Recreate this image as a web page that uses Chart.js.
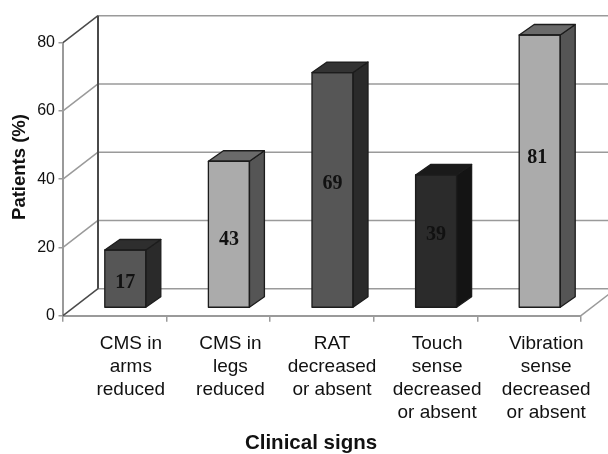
<!DOCTYPE html>
<html>
<head>
<meta charset="utf-8">
<title>Clinical signs</title>
<script src="https://cdn.jsdelivr.net/npm/chart.js@4"></script>
<style>
    html, body { margin: 0; padding: 0; background: #fff; }
    canvas { display: block; }
</style>
</head>
<body>
<canvas id="signsChart" width="608" height="454"></canvas>
<script>
const categories = [
    ["CMS in", "arms", "reduced"],
    ["CMS in", "legs", "reduced"],
    ["RAT", "decreased", "or absent"],
    ["Touch", "sense", "decreased", "or absent"],
    ["Vibration", "sense", "decreased", "or absent"]
];
const patients = [17, 43, 69, 39, 81];
const yTicks = [0, 20, 40, 60, 80];

const frontColors = ["#565656", "#ababab", "#565656", "#2b2b2b", "#ababab"];
const sideColors = ["#2a2a2a", "#555555", "#2a2a2a", "#141414", "#555555"];
const topColors = ["#2e2e2e", "#6a6a6a", "#333333", "#1a1a1a", "#6a6a6a"];
// the printed numbers and category labels were placed by hand in the original
const valueNudge = [[0, 4], [0, 6], [0, -6], [0, -6], [-2.5, -13]];
const categoryNudge = [16, 12, 10, 11.5, 17];

const wall = { dx: 35, dy: -27 };
const barShift = { dx: 10.5, dy: -7.7 };
const barDepth = { dx: 15, dy: -10.5 };
const gridColor = "#9a9a9a";
const darkLine = "#4a4a4a";

function line(ctx, x1, y1, x2, y2) {
    ctx.beginPath();
    ctx.moveTo(x1, y1);
    ctx.lineTo(x2, y2);
    ctx.stroke();
}

function face(ctx, points, fill) {
    ctx.beginPath();
    points.forEach((p, i) => i ? ctx.lineTo(p[0], p[1]) : ctx.moveTo(p[0], p[1]));
    ctx.closePath();
    ctx.fillStyle = fill;
    ctx.fill();
    ctx.stroke();
}

function axisTitle(ctx, text, x, y, size, angle) {
    ctx.save();
    ctx.translate(x, y);
    ctx.rotate(angle);
    ctx.fillStyle = "#111";
    ctx.font = "bold " + size + "px 'Liberation Sans'";
    ctx.textAlign = "center";
    ctx.textBaseline = "middle";
    ctx.fillText(text, 0, 0);
    ctx.restore();
}

const box3d = {
    id: "box3d",
    beforeDraw(chart) {
        // shift each category label off its band centre
        const x = chart.scales.x;
        x.getLabelItems(chart.chartArea).forEach((item, i) => {
            item.options.translation[0] = x.getPixelForValue(i) + categoryNudge[i];
        });
    },
    beforeDatasetsDraw(chart) {
        const { ctx, scales: { x, y } } = chart;
        const left = x.left, right = x.right;
        ctx.save();
        ctx.lineWidth = 1.5;
        yTicks.forEach(v => {
            const py = y.getPixelForValue(v);
            ctx.strokeStyle = gridColor;
            line(ctx, left + wall.dx, py + wall.dy, chart.width + 2, py + wall.dy);
            // first and last side-wall lines are darker
            ctx.strokeStyle = v === 0 || v === 80 ? darkLine : gridColor;
            line(ctx, left, py, left + wall.dx, py + wall.dy);
        });
        ctx.strokeStyle = gridColor;
        line(ctx, right, y.bottom, right + wall.dx, y.bottom + wall.dy);
        ctx.strokeStyle = darkLine;
        ctx.lineWidth = 2;
        line(ctx, left + wall.dx, y.top + wall.dy, left + wall.dx, y.bottom + wall.dy);
        ctx.restore();
    },
    beforeDatasetDraw(chart) {
        chart.ctx.save();
        chart.ctx.translate(barShift.dx, barShift.dy);
    },
    afterDatasetDraw(chart, args) {
        const { ctx, scales: { y } } = chart;
        ctx.strokeStyle = "#1c1c1c";
        ctx.lineWidth = 1.3;
        ctx.lineJoin = "round";
        args.meta.data.forEach((bar, i) => {
            const { x: cx, y: by, base, width } = bar.getProps(["x", "y", "base", "width"], true);
            const top = Math.max(by, y.top);   // bars stop at the axis maximum
            const l = cx - width / 2, r = cx + width / 2;
            const d = barDepth;
            face(ctx, [[r, top], [r + d.dx, top + d.dy], [r + d.dx, base + d.dy], [r, base]], sideColors[i]);
            face(ctx, [[l, top], [l + d.dx, top + d.dy], [r + d.dx, top + d.dy], [r, top]], topColors[i]);
            ctx.strokeRect(l, top, width, base - top);
            ctx.fillStyle = "#111";
            ctx.font = "bold 20px 'Liberation Serif'";
            ctx.textAlign = "center";
            ctx.textBaseline = "middle";
            ctx.fillText(patients[i], cx + valueNudge[i][0], (top + base) / 2 + valueNudge[i][1]);
        });
        ctx.restore();

        axisTitle(ctx, "Patients (%)", 20, 167, 18.5, -Math.PI / 2);
        axisTitle(ctx, "Clinical signs", 311, 443.5, 20.5, 0);
    }
};

new Chart(document.getElementById("signsChart"), {
    type: "bar",
    plugins: [box3d],
    data: {
        labels: categories,
        datasets: [{
            data: patients,
            backgroundColor: frontColors,
            borderWidth: 0,
            categoryPercentage: 1,
            barPercentage: 0.396
        }]
    },
    options: {
        responsive: false,
        animation: false,
        layout: { padding: { top: 42.7, right: 27, left: 0, bottom: 0 } },
        plugins: { legend: { display: false }, tooltip: { enabled: false } },
        scales: {
            x: {
                afterFit(scale) { scale.height = 138.3; },
                grid: { drawOnChartArea: false, color: gridColor, lineWidth: 1.5, tickLength: 6 },
                border: { color: gridColor, width: 2 },
                ticks: {
                    color: "#111",
                    font: { family: "'Liberation Sans'", size: 19, lineHeight: 1.22 },
                    padding: 10,
                    maxRotation: 0,
                    autoSkip: false
                }
            },
            y: {
                min: 0,
                max: 80,
                afterFit(scale) { scale.width = 63; },
                afterBuildTicks(scale) { scale.ticks = yTicks.map(value => ({ value })); },
                grid: { drawOnChartArea: false, color: gridColor, lineWidth: 1.5, tickLength: 4.5 },
                border: { color: gridColor, width: 2 },
                ticks: {
                    color: "#111",
                    font: { family: "'Liberation Sans'", size: 16 },
                    padding: 3.5
                }
            }
        }
    }
});
</script>
</body>
</html>
